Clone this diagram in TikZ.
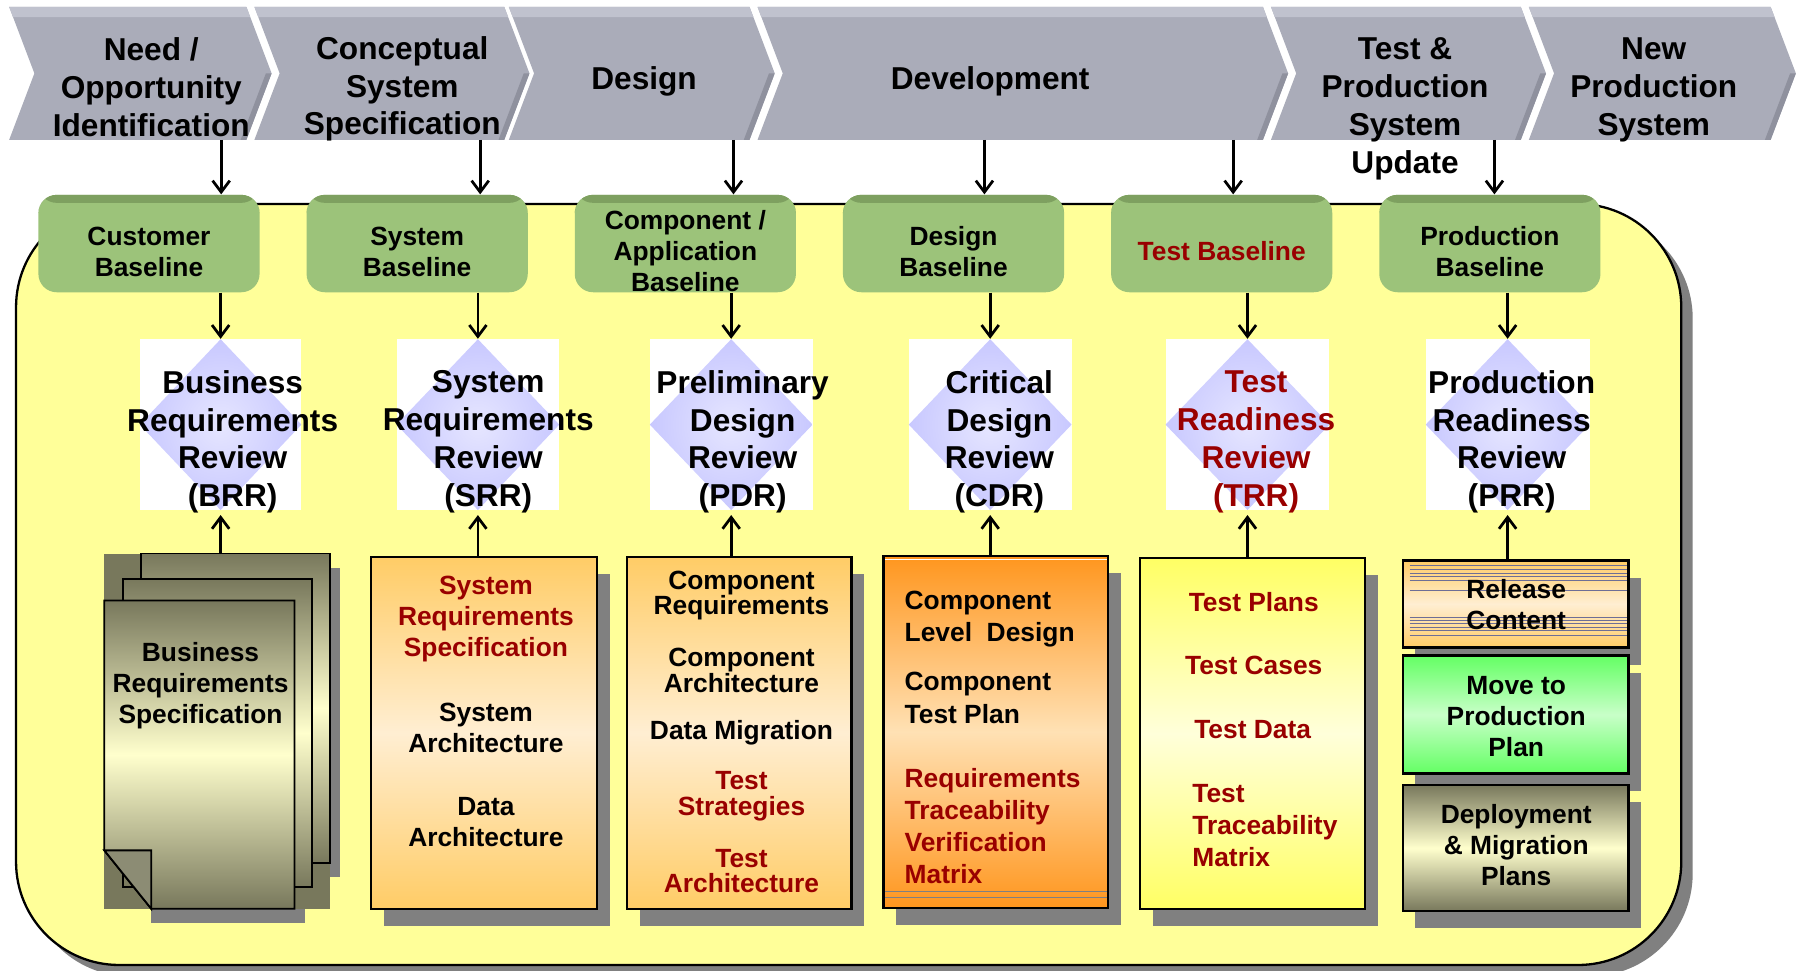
\documentclass[tikz,border=0pt]{standalone}
\usepackage{fontspec}
\setmainfont{Liberation Sans}
\usetikzlibrary{arrows.meta,calc,fit,shadows}
\definecolor{chevc}{RGB}{170,172,185}
\definecolor{chevtop}{RGB}{192,194,206}
\definecolor{chevdark}{RGB}{143,145,158}
\definecolor{panelc}{RGB}{255,255,153}
\definecolor{sgray}{RGB}{128,128,128}
\definecolor{greenc}{RGB}{156,195,122}
\definecolor{greendk}{RGB}{126,160,96}
\definecolor{lav}{RGB}{200,200,255}
\definecolor{lavlt}{RGB}{230,230,255}
\definecolor{dred}{RGB}{153,0,0}
\definecolor{or1}{RGB}{255,204,102}
\definecolor{or2}{RGB}{255,238,210}
\definecolor{dor1}{RGB}{255,150,30}
\definecolor{dor2}{RGB}{255,225,180}
\definecolor{ye1}{RGB}{255,255,100}
\definecolor{ye2}{RGB}{255,255,218}
\definecolor{ol1}{RGB}{120,120,92}
\definecolor{ol2}{RGB}{255,255,205}
\definecolor{gr1}{RGB}{100,255,100}
\definecolor{gr2}{RGB}{200,255,200}
\definecolor{linec}{RGB}{110,110,150}
\newcommand\chevshape[2]{%
 \fill[chevc] (#1,6) -- (#2,6) -- ({#2+22},64) -- (#2,122) -- (#1,122) -- ({#1+22},64) -- cycle;
 \fill[chevtop] (#1,6) -- (#2,6) -- ({#2+3.4},15) -- ({#1+3.4},15) -- cycle;
 \fill[chevdark] ({#2+22},64) -- (#2,122) -- ({#2-5},122) -- ({#2+17},64) -- cycle;
}
\tikzset{
 big/.style={font=\bfseries\fontsize{13.8}{16.5}\selectfont, align=center, inner sep=0pt},
 small/.style={font=\bfseries\fontsize{11.5}{13.5}\selectfont, align=center, inner sep=0pt},
 arr/.style={line width=1.2pt, -{Straight Barb[length=5pt,width=7.5pt]}},
 gbox/.style={inner sep=0pt, fill=greenc, rounded corners=8pt,
   path picture={\fill[greendk] (path picture bounding box.north west) rectangle ([yshift=-3.5pt]path picture bounding box.north east);}},
 review/.style={inner sep=0pt, fill=white,
   path picture={\shade[inner color=lavlt, outer color=lav] (path picture bounding box.north) -- (path picture bounding box.east) -- (path picture bounding box.south) -- (path picture bounding box.west) -- cycle;}},
 shad/.style={drop shadow={shadow xshift=5.5pt, shadow yshift=-7.5pt, fill=sgray, opacity=1}},
 doc/.style={inner sep=0pt, draw=black, line width=1pt, shad},
 page/.style={inner sep=0pt, draw=black, line width=0.8pt, top color=ol1, bottom color=ol1, middle color=ol2},
}
\begin{document}
\begin{tikzpicture}[x=0.5pt,y=-0.5pt]
\useasboundingbox (0,0) rectangle (1568,847);
% panel
\node[fit={(14,178) (1467,842)}, inner sep=0pt, draw, line width=1pt, fill=panelc, rounded corners=45pt,
  drop shadow={shadow xshift=5pt, shadow yshift=-5pt, fill=sgray, opacity=1}] (panel) {};
% chevrons
\chevshape{8}{215}
\chevshape{222}{440}
\chevshape{444}{654}
\chevshape{661}{1102}
\chevshape{1109}{1327}
\chevshape{1334}{1545}
\node[big] (t1) at (132,76) {Need /\\Opportunity\\Identification};
\node[big] (t2) at (351,77.5) {Conceptual\\System\\Specification};
\node[big] (t3) at (562,71) {Design};
\node[big] (t4) at (864,71) {Development};
\node[big] (t5) at (1226,95) {Test \&\\Production\\System\\Update};
\node[big] (t6) at (1443,78.5) {New\\Production\\System};
\coordinate (a1) at (193,122);
\coordinate (a2) at (419,122);
\coordinate (a3) at (640,122);
\coordinate (a4) at (859,122);
\coordinate (a5) at (1076,122);
\coordinate (a6) at (1304,122);
% green baselines
\node[gbox, fit={(33.5,170) (226.5,255)}] (g1) {};
\node[gbox, fit={(267.5,170) (460.5,255)}] (g2) {};
\node[gbox, fit={(501.5,170) (694.5,255)}] (g3) {};
\node[gbox, fit={(735.5,170) (928.5,255)}] (g4) {};
\node[gbox, fit={(969.5,170) (1162.5,255)}] (g5) {};
\node[gbox, fit={(1203.5,170) (1396.5,255)}] (g6) {};
\node[small] (g1t) at (130,219.5) {Customer\\Baseline};
\node[small] (g2t) at (364,219.5) {System\\Baseline};
\node[small] (g3t) at (598,219) {Component /\\Application\\Baseline};
\node[small] (g4t) at (832,219.5) {Design\\Baseline};
\node[small, text=dred] (g5t) at (1066,219) {Test Baseline};
\node[small] (g6t) at (1300,219.5) {Production\\Baseline};
\foreach \i in {1,...,6} {\draw[arr] (a\i) -- (a\i |- g\i.north);}
% reviews
\node[review, fit={(122,296) (263,445)}] (r1) {};
\node[review, fit={(346,296) (488,445)}] (r2) {};
\node[review, fit={(567,296) (709,445)}] (r3) {};
\node[review, fit={(793,296) (935,445)}] (r4) {};
\node[review, fit={(1017,296) (1160,445)}] (r5) {};
\node[review, fit={(1244,296) (1387,445)}] (r6) {};
\node[big] (r1t) at (203,385.5) {Business\\Requirements\\Review\\(BRR)};
\node[big] (r2t) at (426,385.5) {System\\Requirements\\Review\\(SRR)};
\node[big] (r3t) at (648,385.5) {Preliminary\\Design\\Review\\(PDR)};
\node[big] (r4t) at (872,385.5) {Critical\\Design\\Review\\(CDR)};
\node[big, text=dred] (r5t) at (1096,385.5) {Test\\Readiness\\Review\\(TRR)};
\node[big] (r6t) at (1319,385.5) {Production\\Readiness\\Review\\(PRR)};
\foreach \i in {1,...,6} {\draw[arr] (g\i.south -| r\i.north) -- (r\i.north);}
% doc 1: stacked pages
\fill[sgray] (288,496) rectangle (297,765);
\fill[sgray] (132,793) rectangle (266,805);
\fill[ol1] (91,483) rectangle (288,793);
\node[page, fit={(123,483) (288,753)}] (d1) {};
\node[page, fit={(107,505) (272,774)}] (d1b) {};
\draw[line width=0.8pt, top color=ol1, bottom color=ol1, middle color=ol2] (91,524) -- (257,524) -- (257,793) -- (132,793) -- (91,742) -- cycle;
\draw[line width=0.8pt, fill=ol1!85!white] (91,742) -- (132,742) -- (132,793) -- cycle;
\node[small] (d1t) at (175,598.5) {Business\\Requirements\\Specification};
% doc 2
\node[doc, fit={(324,486) (521,793)}, top color=or1, bottom color=or1, middle color=or2] (d2) {};
\node[small, text=dred] (d2a) at (424,540) {System\\Requirements\\Specification};
\node[small] (d2b) at (424,635.5) {System\\Architecture};
\node[small] (d2c) at (424,717.5) {Data\\Architecture};
% doc 3
\node[doc, fit={(547,486) (743,793)}, top color=or1, bottom color=or1, middle color=or2] (d3) {};
\node[small] (d3a) at (647,519.5) {Component\\[-2.5pt]Requirements};
\node[small] (d3b) at (647,585) {Component\\[-2.5pt]Architecture};
\node[small] (d3c) at (647,639.5) {Data Migration};
\node[small, text=dred] (d3d) at (647,695) {Test\\[-2pt]Strategies};
\node[small, text=dred] (d3e) at (647,760) {Test\\[-2.5pt]Architecture};
% doc 4
\node[doc, fit={(771,485) (967,792)}, top color=dor1, bottom color=dor1, middle color=dor2] (d4) {};
\draw[sgray, line width=0.6pt] (772,778) -- (966,778);
\draw[sgray, line width=0.6pt] (772,783) -- (966,783);
\draw[white, line width=0.6pt] (772,488) -- (966,488);
\node[small, align=left, anchor=west] (d4a) at (789,540) {Component\\[0.5pt]Level~~Design};
\node[small, align=left, anchor=west] (d4b) at (789,609) {Component\\[0.5pt]Test Plan};
\node[small, align=left, anchor=west, text=dred] (d4c) at (789,721) {Requirements\\[0.5pt]Traceability\\[0.5pt]Verification\\[0.5pt]Matrix};
% doc 5
\node[doc, fit={(995,487) (1191,793)}, top color=ye1, bottom color=ye1, middle color=ye2] (d5) {};
\node[small, text=dred] (d5a) at (1094,525) {Test Plans};
\node[small, text=dred] (d5b) at (1094,581) {Test Cases};
\node[small, text=dred] (d5c) at (1093,637) {Test Data};
\node[small, align=left, anchor=west, text=dred] (d5d) at (1040,720) {Test\\[0.5pt]Traceability\\[0.5pt]Matrix};
% doc 6 stack
\node[doc, fit={(1224,489) (1421,565)}, top color=or1, bottom color=or1, middle color=or2] (rc) {};
\foreach \yy in {493,497,500,503,506,515,539,541,544,547,550,554} {\draw[linec, line width=0.3pt] (1230,\yy) -- (1420,\yy);}
\node[small] (rct) at (1323,527.5) {Release\\Content};
\node[doc, fit={(1224,572) (1421,675)}, top color=gr1, bottom color=gr1, middle color=gr2] (mp) {};
\node[small] (mpt) at (1323,625) {Move to\\Production\\Plan};
\node[doc, fit={(1224,685) (1421,795)}, top color=ol1, bottom color=ol1, middle color=ol2] (dm) {};
\node[small] (dmt) at (1323,737) {Deployment\\\& Migration\\Plans};
% up arrows
\draw[arr] (d1.north -| r1.south) -- ([yshift=-2pt]r1.south);
\draw[arr] (d2.north -| r2.south) -- ([yshift=-2pt]r2.south);
\draw[arr] (d3.north -| r3.south) -- ([yshift=-2pt]r3.south);
\draw[arr] (d4.north -| r4.south) -- ([yshift=-2pt]r4.south);
\draw[arr] (d5.north -| r5.south) -- ([yshift=-2pt]r5.south);
\draw[arr] (rc.north -| r6.south) -- ([yshift=-2pt]r6.south);
\end{tikzpicture}
\end{document}
